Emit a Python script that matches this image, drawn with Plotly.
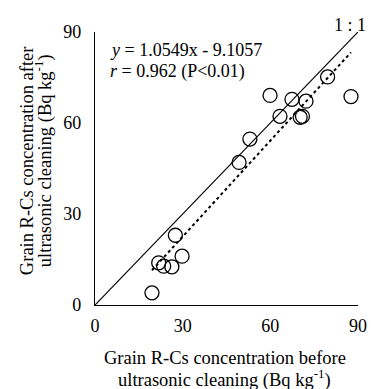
import plotly.graph_objects as go

# Data
before = [19.5, 21.8, 23.5, 26.3, 27.5, 29.8, 49.3, 53.0, 59.9, 63.3, 67.4, 72.2, 70.2, 71.0, 79.6, 87.6]
after = [4.0, 13.9, 12.8, 12.6, 23.0, 16.1, 47.0, 54.7, 69.1, 62.2, 67.8, 67.2, 61.9, 62.2, 75.2, 68.7]
slope = 1.0549
intercept = -9.1057
one_to_one = [0, 90]
tick_vals = [0, 30, 60, 90]

fit_x = [min(before), max(before)]
fit_y = [slope * v + intercept for v in fit_x]

FONT = "Liberation Serif"

fig = go.Figure()
fig.add_trace(go.Scatter(x=one_to_one, y=one_to_one, mode="lines",
                         line=dict(color="black", width=1.2), showlegend=False, hoverinfo="skip"))
fig.add_trace(go.Scatter(x=fit_x, y=fit_y, mode="lines",
                         line=dict(color="black", width=2, dash="dot"), showlegend=False, hoverinfo="skip"))
fig.add_trace(go.Scatter(x=before, y=after, mode="markers",
                         marker=dict(symbol="circle-open", size=14, color="black", line=dict(width=1.3)),
                         showlegend=False, cliponaxis=False))

ann = dict(showarrow=False, xref="paper", yref="paper", font=dict(size=18.5, family=FONT, color="black"))
small = dict(size=18, family=FONT, color="black")

fig.update_layout(
    width=371, height=389,
    margin=dict(l=95, r=13, t=32, b=84, autoexpand=False),
    paper_bgcolor="white", plot_bgcolor="white",
    font=dict(family=FONT, size=18, color="black"),
    xaxis=dict(range=[0, 90], tickvals=tick_vals, showgrid=False, zeroline=False,
               showline=True, linecolor="black", linewidth=1.2, ticks="",
               tickfont=dict(size=18, family=FONT), automargin=False, ticklabelstandoff=4),
    yaxis=dict(range=[0, 90], tickvals=tick_vals, showgrid=False, zeroline=False,
               showline=True, linecolor="black", linewidth=1.2, ticks="",
               tickfont=dict(size=18, family=FONT), automargin=False, ticklabelstandoff=9),
    annotations=[
        dict(ann, x=0.494, y=0, yanchor="middle", yshift=-53,
             text="Grain R-Cs concentration before"),
        dict(ann, x=0.494, y=0, yanchor="middle", yshift=-73,
             text="ultrasonic cleaning (Bq kg<sup>-1</sup>)"),
        dict(ann, x=0, y=0.527, xanchor="center", xshift=-68, textangle=-90,
             text="Grain R-Cs concentration after"),
        dict(ann, x=0, y=0.527, xanchor="center", xshift=-52, textangle=-90,
             text="ultrasonic cleaning (Bq kg<sup>-1</sup>)"),
        dict(ann, x=0.05, y=0.935, xanchor="left", yanchor="middle",
             text="<i>y</i> = 1.0549x - 9.1057", font=small),
        dict(ann, x=0.05, y=0.855, xanchor="left", yanchor="middle",
             text="<i>r</i> = 0.962 (P<0.01)", font=small),
        dict(ann, x=1.038, y=1.026, xanchor="right", yanchor="middle",
             text="1 : 1", font=small),
    ],
)

fig.write_html("out.html", config={"displayModeBar": False},
               post_script="document.body.style.margin='0';document.body.style.overflow='hidden';")
